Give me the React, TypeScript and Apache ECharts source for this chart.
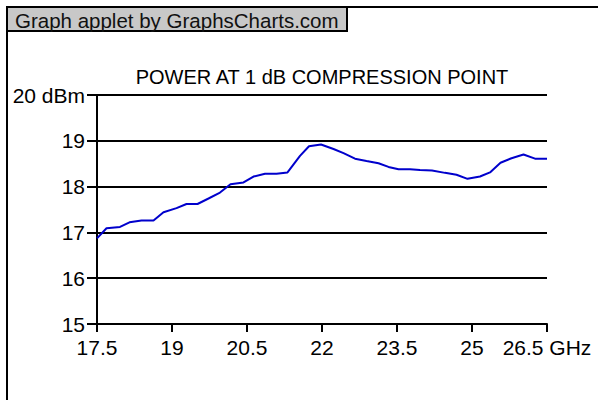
import React, { useEffect, useRef } from "react";
import * as echarts from "echarts";

const FREQ_GHZ = [
  17.5, 17.69, 17.96, 18.15, 18.39, 18.63, 18.83, 19.09, 19.29, 19.51,
  19.73, 19.96, 20.17, 20.43, 20.63, 20.86, 21.09, 21.31, 21.56, 21.74,
  21.98, 22.23, 22.43, 22.66, 22.89, 23.13, 23.33, 23.53, 23.76, 23.96,
  24.2, 24.46, 24.69, 24.91, 25.16, 25.36, 25.57, 25.79, 26.03, 26.26, 26.5,
];
const POWER_DBM = [
  16.87, 17.09, 17.12, 17.22, 17.26, 17.26, 17.44, 17.53, 17.62, 17.62,
  17.74, 17.87, 18.05, 18.09, 18.22, 18.28, 18.28, 18.31, 18.67, 18.88,
  18.92, 18.82, 18.73, 18.61, 18.56, 18.51, 18.43, 18.38, 18.38, 18.36,
  18.35, 18.3, 18.26, 18.17, 18.22, 18.31, 18.52, 18.62, 18.7, 18.61, 18.61,
];
const X_START = 17.5;
const X_END = 26.5;
const X_STEP = 1.5;
const Y_MIN = 15;
const Y_MAX = 20;
const TITLE = "POWER AT 1 dB COMPRESSION POINT";
const HEADER = "Graph applet by GraphsCharts.com";

const FONT = "Liberation Sans, Arial, Helvetica, sans-serif";

export default function App() {
  const ref = useRef<HTMLDivElement>(null);
  useEffect(() => {
    document.body.style.margin = "0";
    const chart = echarts.init(ref.current!, null, { renderer: "svg" });
    const data = FREQ_GHZ.map((f, i) => [f - X_START, POWER_DBM[i]]);
    chart.setOption({
      animation: false,
      backgroundColor: "#ffffff",
      textStyle: { fontFamily: FONT },
      title: {
        text: TITLE,
        left: 322,
        top: 67,
        textAlign: "center",
        padding: 0,
        textStyle: { fontSize: 20, fontWeight: "normal", color: "#000", fontFamily: FONT },
      },
      grid: { left: 97, right: 51, top: 95, bottom: 76, containLabel: false },
      xAxis: {
        type: "value",
        min: 0,
        max: X_END - X_START,
        interval: X_STEP,
        axisLine: { show: true, onZero: false, lineStyle: { color: "#000", width: 2 } },
        axisTick: { show: true, length: 8, lineStyle: { color: "#000", width: 2 } },
        splitLine: { show: false },
        axisLabel: {
          margin: 13,
          fontSize: 21,
          color: "#000",
          fontFamily: FONT,
          formatter: (v: number) => {
            const f = +(v + X_START).toFixed(2);
            return Math.abs(f - X_END) < 1e-6 ? `${f} GHz` : `${f}`;
          },
        },
      },
      yAxis: {
        type: "value",
        min: Y_MIN,
        max: Y_MAX,
        interval: 1,
        axisLine: { show: true, lineStyle: { color: "#000", width: 2 } },
        axisTick: { show: true, length: 10, lineStyle: { color: "#000", width: 2 } },
        splitLine: { show: true, lineStyle: { color: "#000", width: 2 } },
        axisLabel: {
          margin: 12,
          fontSize: 21,
          color: "#000",
          fontFamily: FONT,
          formatter: (v: number) => (v === Y_MAX ? `${v} dBm` : `${v}`),
        },
      },
      series: [
        {
          type: "line",
          data,
          showSymbol: false,
          symbol: "none",
          lineStyle: { color: "#0000cc", width: 2 },
          z: 5,
        },
      ],
      graphic: [
        {
          type: "rect",
          shape: { x: 7, y: 7, width: 700, height: 600 },
          style: { fill: "none", stroke: "#000", lineWidth: 2 },
          silent: true,
        },
        {
          type: "rect",
          shape: { x: 7, y: 7, width: 340, height: 24 },
          style: { fill: "#c8c8c8", stroke: "#000", lineWidth: 2 },
          silent: true,
        },
        {
          type: "text",
          x: 15,
          y: 20,
          style: {
            text: HEADER,
            fontSize: 20.5,
            fontFamily: FONT,
            fill: "#111",
            textVerticalAlign: "middle",
            verticalAlign: "middle",
          },
          silent: true,
        },
      ],
    });
    return () => chart.dispose();
  }, []);
  return <div ref={ref} style={{ width: 598, height: 400, overflow: "hidden" }} />;
}
